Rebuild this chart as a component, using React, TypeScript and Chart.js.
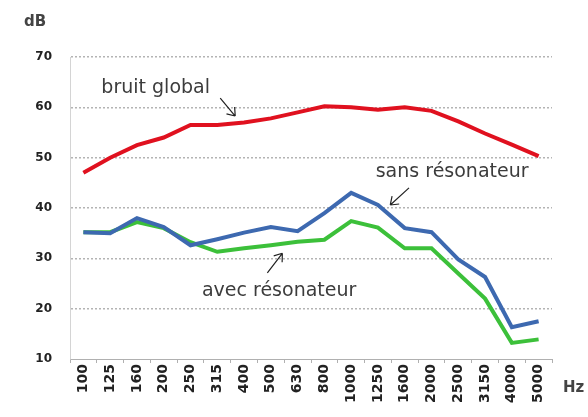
import React, { useEffect, useRef } from "react";
import { Chart, registerables } from "chart.js";

Chart.register(...registerables);

const categories = ["100", "125", "160", "200", "250", "315", "400", "500", "630", "800", "1000", "1250", "1600", "2000", "2500", "3150", "4000", "5000"];
const bruitGlobal = [47, 50, 52.5, 54, 56.5, 56.5, 57, 57.8, 59, 60.2, 60, 59.5, 60, 59.3, 57.2, 54.8, 52.6, 50.3];
const sansResonateur = [35.2, 35, 38, 36.2, 32.6, 33.8, 35.1, 36.2, 35.4, 39, 43, 40.6, 36, 35.2, 29.8, 26.3, 16.3, 17.5];
const avecResonateur = [35.2, 35.2, 37.2, 36, 33.2, 31.3, 32, 32.6, 33.3, 33.7, 37.4, 36.1, 32, 32, 27, 22, 13.2, 13.9];
const yTicks = [10, 20, 30, 40, 50, 60, 70];

// annotation texts and arrows, in (category index, dB) coordinates
const annotationTexts = [
  { text: "bruit global", x: 2.7, y: 63.8 },
  { text: "sans résonateur", x: 13.77, y: 47.1 },
  { text: "avec résonateur", x: 7.31, y: 23.5 },
];
const annotationArrows = [
  { from: [5.11, 61.85], to: [5.67, 58.27] },
  { from: [12.16, 44.0], to: [11.46, 40.6] },
  { from: [6.87, 27.1], to: [7.43, 31.0] },
];

const annotationPlugin = {
  id: "annot",
  afterDatasetsDraw(chart: any) {
    const { ctx, scales } = chart;
    const xs = scales.x;
    const ys = scales.y;
    const px = (i: number) => xs.getPixelForValue(0) + i * (xs.getPixelForValue(1) - xs.getPixelForValue(0));
    const py = (v: number) => ys.getPixelForValue(v);
    ctx.save();
    ctx.fillStyle = "#3c3c3c";
    ctx.font = "19px 'DejaVu Sans'";
    ctx.textAlign = "center";
    ctx.textBaseline = "middle";
    for (const t of annotationTexts) ctx.fillText(t.text, px(t.x), py(t.y));
    ctx.strokeStyle = "#222";
    ctx.lineWidth = 1.2;
    for (const a of annotationArrows) {
      const x1 = px(a.from[0]), y1 = py(a.from[1]);
      const x2 = px(a.to[0]), y2 = py(a.to[1]);
      ctx.beginPath();
      ctx.moveTo(x1, y1);
      ctx.lineTo(x2, y2);
      const ang = Math.atan2(y2 - y1, x2 - x1);
      const L = 9;
      for (const d of [Math.PI / 5, -Math.PI / 5]) {
        ctx.moveTo(x2, y2);
        ctx.lineTo(x2 - L * Math.cos(ang + d), y2 - L * Math.sin(ang + d));
      }
      ctx.stroke();
    }
    // axis titles
    ctx.fillStyle = "#444";
    ctx.font = "bold 15px 'DejaVu Sans'";
    ctx.textAlign = "left";
    ctx.fillText("dB", 24, 22);
    ctx.fillText("Hz", 563, 388);
    ctx.restore();
  },
};

export default function App() {
  const ref = useRef<HTMLCanvasElement>(null);
  useEffect(() => {
    document.body.style.margin = "0";
    const chart = new Chart(ref.current!, {
      type: "line",
      data: {
        labels: categories,
        datasets: [
          { data: bruitGlobal, borderColor: "#e0111f", borderWidth: 4, pointRadius: 0, tension: 0 },
          { data: sansResonateur, borderColor: "#3d69b0", borderWidth: 4, pointRadius: 0, tension: 0 },
          { data: avecResonateur, borderColor: "#3cc03a", borderWidth: 4, pointRadius: 0, tension: 0 },
        ],
      },
      options: {
        animation: false,
        responsive: true,
        maintainAspectRatio: false,
        layout: { padding: { left: 0, top: 57, right: 36, bottom: 0 } },
        plugins: { legend: { display: false }, tooltip: { enabled: false } },
        scales: {
          x: {
            offset: true,
            grid: { drawOnChartArea: false, drawTicks: true, tickLength: 4, offset: true, color: "#b0b0b0" },
            border: { color: "#b0b0b0", width: 1 },
            ticks: {
              minRotation: 90,
              maxRotation: 90,
              padding: 1,
              autoSkip: false,
              color: "#222",
              font: { family: "'DejaVu Sans'", size: 14, weight: "bold" },
            },
            afterFit: (s: any) => { s.height = 58; },
          },
          y: {
            min: 10,
            max: 70,
            afterBuildTicks: (s: any) => { s.ticks = yTicks.map((v) => ({ value: v })); },
            grid: { drawTicks: false, color: (c: any) => (c.tick && c.tick.value === 10 ? "rgba(0,0,0,0)" : "#b4b4b4"), lineWidth: 1.5 },
            border: { color: "#d4d4d4", width: 1, dash: [2, 2] },
            ticks: {
              padding: 18,
              color: "#222",
              font: { family: "'DejaVu Sans'", size: 12, weight: "bold" },
            },
            afterFit: (s: any) => { s.width = 70; },
          },
        },
      } as any,
      plugins: [annotationPlugin],
    });
    return () => chart.destroy();
  }, []);
  return (
    <div style={{ width: 588, height: 417, position: "relative" }}>
      <canvas ref={ref} />
    </div>
  );
}
